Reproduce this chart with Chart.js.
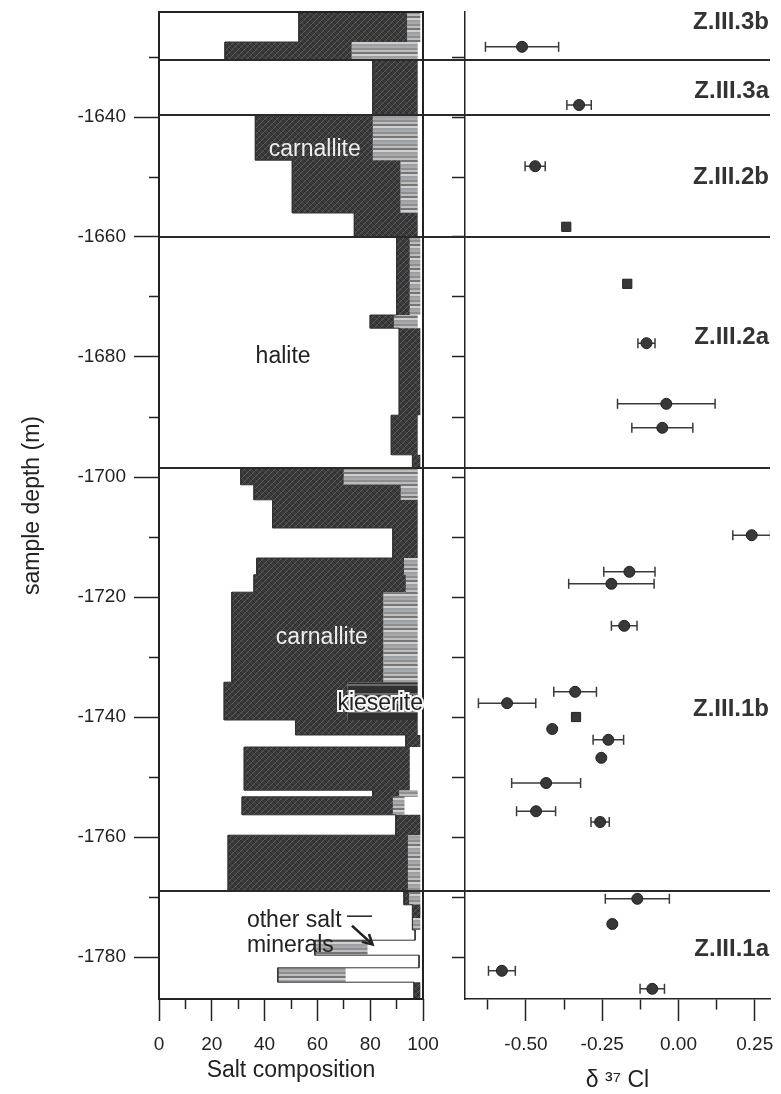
<!DOCTYPE html>
<html>
<head>
<meta charset="utf-8">
<script src="https://cdn.jsdelivr.net/npm/chart.js@4.4.0/dist/chart.umd.min.js"></script>
<style>
  html, body { margin: 0; padding: 0; background: #fff; }
  #wrap { position: relative; width: 781px; height: 1094px; }
  #comp { position: absolute; left: 0; top: 0; }
  #cl { position: absolute; left: 440px; top: 0; }
</style>
</head>
<body>
<div id="wrap">
  <canvas id="comp" width="440" height="1094"></canvas>
  <canvas id="cl" width="341" height="1094"></canvas>
</div>
<script>
/* ---- data ---- */
// top depth (m) of each logged interval; the last interval ends at depthBottom
var layerTops = [-1622.5, -1627.5, -1630.5, -1639.7, -1647.2, -1656, -1660, -1673, -1675.2, -1689.7, -1696.3,
  -1698.5, -1701.3, -1703.8, -1708.5, -1713.5, -1716.3, -1719.2, -1734.2, -1740.5, -1743, -1745,
  -1752.2, -1753.3, -1756.3, -1759.7, -1769, -1771.3, -1773.5, -1775.5, -1777.2, -1779.7, -1781.8, -1784.2];
var depthBottom = -1787;
// salt composition per interval (%)
var halite     = [53, 25, 81, 36.5, 50.5, 74, 90, 80, 91, 88, 96, 31, 36, 43, 88.6, 37, 36, 27.6, 24.7, 51.7, 93.5, 32.3, 81, 31.5, 89.7, 26.2, 92.8, 96, 96, 97, 59, 98.5, 45, 96.6];
var carnallite = [41, 48, 17, 44.5, 41, 24, 5, 9, 8, 10, 3, 39, 55.6, 55, 9.4, 55.8, 57.5, 57.4, 46.8, 46.3, 5.5, 62.7, 10, 57.1, 9.3, 68.1, 2, 3, 0, 0, 0, 0, 0, 2.4];
var kieserite  = [0, 0, 0, 0, 0, 0, 0, 0, 0, 0, 0, 0, 0, 0, 0, 0, 0, 0, 26.5, 0, 0, 0, 0, 0, 0, 0, 0, 0, 0, 0, 0, 0, 0, 0];
var otherSalt  = [5, 25, 0, 17, 6.5, 0, 4, 9, 0, 0, 0, 28, 6.4, 0, 0, 5, 4.5, 13, 0, 0, 0, 0, 7, 4.4, 0, 4.7, 4.2, 0, 3, 0, 20, 0, 25.7, 0];

// delta 37Cl samples
var sampleDepth = [-1628.3, -1638.0, -1648.2, -1658.3, -1667.8, -1677.7, -1687.8, -1691.8, -1709.7, -1715.8, -1717.8, -1724.8, -1735.8,
  -1737.7, -1740.0, -1742.0, -1743.8, -1746.8, -1751.0, -1755.7, -1757.5, -1770.3, -1774.5, -1782.3, -1785.3];
var d37Cl = [-0.513, -0.326, -0.470, -0.368, -0.168, -0.105, -0.040, -0.053, 0.240, -0.161, -0.220, -0.178, -0.339,
  -0.562, -0.336, -0.414, -0.230, -0.253, -0.434, -0.467, -0.257, -0.135, -0.217, -0.579, -0.086];
var d37ClErr = [0.12, 0.04, 0.033, 0, 0, 0.028, 0.16, 0.10, 0.062, 0.084, 0.14, 0.042, 0.07,
  0.094, 0, 0, 0.05, 0, 0.113, 0.064, 0.03, 0.105, 0, 0.044, 0.04];
var markerType = ['c', 'c', 'c', 's', 's', 'c', 'c', 'c', 'c', 'c', 'c', 'c', 'c', 'c', 's', 'c', 'c', 'c', 'c', 'c', 'c', 'c', 'c', 'c', 'c'];

// stratigraphic zones
var zoneBounds = [-1630.5, -1639.7, -1660, -1698.5, -1769];
var zoneNames = ['Z.III.3b', 'Z.III.3a', 'Z.III.2b', 'Z.III.2a', 'Z.III.1b', 'Z.III.1a'];
var zoneNameDepth = [-1624.2, -1635.7, -1650, -1676.8, -1738.8, -1778.8];

// ticks
var depthTicks = [-1780, -1770, -1760, -1750, -1740, -1730, -1720, -1710, -1700, -1690, -1680, -1670, -1660, -1650, -1640, -1630];
var compTicks = [0, 10, 20, 30, 40, 50, 60, 70, 80, 90, 100];
var clTicks = [-0.625, -0.5, -0.375, -0.25, -0.125, 0, 0.125, 0.25];

// mineral labels inside the composition panel (x in %, y in m)
var mineralText  = ['carnallite', 'halite', 'carnallite', 'kieserite', 'other salt', 'minerals'];
var mineralX     = [59, 47, 61.7, 83.8, 33.3, 33.3];
var mineralDepth = [-1645.5, -1680, -1726.8, -1737.7, -1773.9, -1778.1];
var mineralAlign = ['center', 'center', 'center', 'center', 'left', 'left'];
var mineralStyle = ['light', 'dark', 'light', 'halo', 'dark', 'dark'];
var leaderLine = [[71.2, -1773.2], [80.7, -1773.2]];
var leaderArrow = [[73.1, -1774.8], [80.9, -1777.9]];

var FONT = '"Liberation Sans", Arial, sans-serif';
Chart.defaults.font.family = FONT;
Chart.defaults.color = '#222';

/* ---- fills ---- */
function makePattern(target, w, h, draw) {
    var c = document.createElement('canvas');
    c.width = w; c.height = h;
    draw(c.getContext('2d'), w, h);
    return target.getContext('2d').createPattern(c, 'repeat');
}
var compCanvas = document.getElementById('comp');
var darkFill = makePattern(compCanvas, 6, 6, function (g, w, h) {
    g.fillStyle = '#3b3b3b'; g.fillRect(0, 0, w, h);
    g.strokeStyle = '#5e5e5e'; g.lineWidth = 1;
    g.beginPath();
    g.moveTo(0, h); g.lineTo(w, 0);
    g.moveTo(-w / 2, h / 2); g.lineTo(w / 2, -h / 2);
    g.moveTo(w / 2, h * 1.5); g.lineTo(w * 1.5, h / 2);
    g.stroke();
    g.strokeStyle = '#2a2a2a';
    g.beginPath(); g.moveTo(0, 0); g.lineTo(w, h); g.stroke();
});
var kieseriteFill = makePattern(compCanvas, 4, 9, function (g, w, h) {
    g.fillStyle = '#313131'; g.fillRect(0, 0, w, h);
    g.fillStyle = '#6c6c6c'; g.fillRect(0, 0, w, 2);
});
var otherFill = makePattern(compCanvas, 4, 12, function (g, w, h) {
    ['#8e8e8e', '#bdbdbd', '#747474', '#cfcfcf', '#9ba0a6', '#a9a9a9'].forEach(function (c, i) {
        g.fillStyle = c; g.fillRect(0, i * 2, w, 2);
    });
});

// cumulative step profile of a set of layers, top to bottom
function boundary(layers) {
    var pts = [];
    for (var i = 0; i < layerTops.length; i++) {
        var x = 0;
        layers.forEach(function (arr) { x += arr[i]; });
        var bottom = i + 1 < layerTops.length ? layerTops[i + 1] : depthBottom;
        pts.push({ x: x, y: layerTops[i] }, { x: x, y: bottom });
    }
    return pts;
}

function isMajorComp(v) { return v % 20 === 0; }
function isMajorCl(v) { return Math.abs(v * 4 - Math.round(v * 4)) < 1e-9; }

/* ---- plugins ---- */
var zoneLinesPlugin = {
    id: 'zoneLines',
    afterDatasetsDraw: function (chart, args, opts) {
        var ctx = chart.ctx, y = chart.scales.y, a = chart.chartArea;
        var x0 = opts.fromCanvasEdge ? 0 : a.left;
        var x1 = opts.fromCanvasEdge ? a.right : chart.width;
        ctx.save();
        ctx.strokeStyle = '#2a2a2a';
        ctx.lineWidth = 2;
        zoneBounds.forEach(function (d) {
            var py = Math.round(y.getPixelForValue(d));
            ctx.beginPath(); ctx.moveTo(x0, py); ctx.lineTo(x1, py); ctx.stroke();
        });
        ctx.restore();
    }
};

var framePlugin = {
    id: 'frame',
    afterDatasetsDraw: function (chart) {
        var a = chart.chartArea, ctx = chart.ctx;
        ctx.save();
        ctx.strokeStyle = '#222';
        ctx.lineWidth = 2;
        ctx.strokeRect(a.left, a.top, a.right - a.left, a.bottom - a.top);
        ctx.restore();
    }
};

var mineralLabelsPlugin = {
    id: 'mineralLabels',
    afterDatasetsDraw: function (chart) {
        var ctx = chart.ctx, xs = chart.scales.x, ys = chart.scales.y;
        ctx.save();
        ctx.font = '23px ' + FONT;
        ctx.textBaseline = 'middle';
        mineralText.forEach(function (t, i) {
            var px = xs.getPixelForValue(mineralX[i]);
            var py = ys.getPixelForValue(mineralDepth[i]);
            ctx.textAlign = mineralAlign[i];
            if (mineralStyle[i] === 'halo') {
                ctx.lineWidth = 4;
                ctx.strokeStyle = '#f4f4f4';
                ctx.strokeText(t, px, py);
            }
            ctx.fillStyle = mineralStyle[i] === 'light' ? '#eeeeee' : '#222';
            ctx.fillText(t, px, py);
        });
        // leader and arrow towards the thin "other salt minerals" bars
        function pt(p) { return [xs.getPixelForValue(p[0]), ys.getPixelForValue(p[1])]; }
        var l0 = pt(leaderLine[0]), l1 = pt(leaderLine[1]);
        var a0 = pt(leaderArrow[0]), a1 = pt(leaderArrow[1]);
        ctx.strokeStyle = '#222';
        ctx.lineWidth = 1.5;
        ctx.beginPath(); ctx.moveTo(l0[0], l0[1]); ctx.lineTo(l1[0], l1[1]); ctx.stroke();
        var ang = Math.atan2(a1[1] - a0[1], a1[0] - a0[0]);
        ctx.lineWidth = 2.5;
        ctx.beginPath(); ctx.moveTo(a0[0], a0[1]); ctx.lineTo(a1[0], a1[1]); ctx.stroke();
        ctx.beginPath();
        ctx.moveTo(a1[0] - 11 * Math.cos(ang - 0.5), a1[1] - 11 * Math.sin(ang - 0.5));
        ctx.lineTo(a1[0], a1[1]);
        ctx.lineTo(a1[0] - 11 * Math.cos(ang + 0.5), a1[1] - 11 * Math.sin(ang + 0.5));
        ctx.stroke();
        ctx.restore();
    }
};

var zoneNamesPlugin = {
    id: 'zoneNames',
    afterDatasetsDraw: function (chart) {
        var ctx = chart.ctx, ys = chart.scales.y, a = chart.chartArea;
        ctx.save();
        ctx.font = 'bold 24px ' + FONT;
        ctx.fillStyle = '#333';
        ctx.textAlign = 'right';
        ctx.textBaseline = 'middle';
        zoneNames.forEach(function (t, i) {
            ctx.fillText(t, a.right - 1, ys.getPixelForValue(zoneNameDepth[i]));
        });
        ctx.restore();
    }
};

/* ---- left panel: salt composition ---- */
new Chart(compCanvas, {
    type: 'line',
    data: {
        datasets: [
            { label: 'halite', data: boundary([halite]), borderColor: '#333', borderWidth: 1, fill: false },
            { label: 'carnallite', data: boundary([halite, carnallite]), backgroundColor: darkFill, borderWidth: 0, fill: '-1' },
            { label: 'kieserite', data: boundary([halite, carnallite, kieserite]), backgroundColor: kieseriteFill, borderWidth: 0, fill: '-1' },
            { label: 'other salt minerals', data: boundary([halite, carnallite, kieserite, otherSalt]), backgroundColor: otherFill, borderWidth: 0, fill: '-1' }
        ]
    },
    options: {
        responsive: false,
        animation: false,
        devicePixelRatio: 1,
        indexAxis: 'y',
        layout: { padding: { top: 12, right: 17, left: 0, bottom: 0 } },
        elements: { point: { radius: 0, hitRadius: 0 }, line: { tension: 0 } },
        plugins: {
            legend: { display: false },
            tooltip: { enabled: false },
            zoneLines: { fromCanvasEdge: false }
        },
        scales: {
            x: {
                type: 'linear', position: 'bottom', min: 0, max: 100,
                afterBuildTicks: function (a) { a.ticks = compTicks.map(function (v) { return { value: v }; }); },
                afterFit: function (a) { a.height = 95; a.paddingLeft = 0; a.paddingRight = 0; },
                border: { display: false },
                grid: {
                    drawOnChartArea: false, tickLength: 22, tickWidth: 1.5, tickColor: '#222',
                    tickBorderDash: function (c) { return c.tick && !isMajorComp(c.tick.value) ? [10, 100] : []; }
                },
                ticks: {
                    padding: 12, autoSkip: false, maxRotation: 0, color: '#222', font: { size: 19 },
                    callback: function (v) { return isMajorComp(v) ? String(v) : ''; }
                },
                title: { display: true, text: 'Salt composition', color: '#222', font: { size: 23 }, padding: { top: 0, bottom: 10 } }
            },
            y: {
                type: 'linear', position: 'left', min: -1787, max: -1622.5,
                afterBuildTicks: function (a) { a.ticks = depthTicks.map(function (v) { return { value: v }; }); },
                afterFit: function (a) { a.width = 159; a.paddingTop = 0; a.paddingBottom = 0; },
                border: { display: false },
                grid: {
                    drawOnChartArea: false, tickLength: 25, tickWidth: 1.5, tickColor: '#222',
                    tickBorderDash: function (c) { return c.tick && !isMajorComp(c.tick.value) ? [0, 15, 10, 100] : []; }
                },
                ticks: {
                    padding: 8, autoSkip: false, color: '#222', font: { size: 19 },
                    callback: function (v) { return isMajorComp(v) ? String(v) : ''; }
                },
                title: { display: true, text: 'sample depth (m)', color: '#222', font: { size: 23 }, padding: { top: 19, bottom: 0 } }
            }
        }
    },
    plugins: [zoneLinesPlugin, framePlugin, mineralLabelsPlugin]
});

/* ---- right panel: delta 37Cl ---- */
var errData = [];
sampleDepth.forEach(function (d, i) {
    if (d37ClErr[i] > 0) {
        errData.push({ x: d37Cl[i] - d37ClErr[i], y: d }, { x: d37Cl[i] + d37ClErr[i], y: d }, { x: null, y: null });
    }
});
var markerData = sampleDepth.map(function (d, i) { return { x: d37Cl[i], y: d }; });

new Chart(document.getElementById('cl'), {
    type: 'scatter',
    data: {
        datasets: [
            {
                label: 'error', data: errData, showLine: true, spanGaps: false, order: 2,
                borderColor: '#3a3a3a', borderWidth: 1.5,
                pointStyle: 'line', rotation: 90, pointRadius: 5,
                pointBorderColor: '#3a3a3a', pointBorderWidth: 1.5
            },
            {
                label: 'd37Cl', data: markerData, order: 1,
                pointStyle: function (c) { return markerType[c.dataIndex] === 's' ? 'rect' : 'circle'; },
                pointRadius: function (c) { return markerType[c.dataIndex] === 's' ? 6.5 : 5.5; },
                backgroundColor: '#383838', borderColor: '#222', borderWidth: 1
            }
        ]
    },
    options: {
        responsive: false,
        animation: false,
        devicePixelRatio: 1,
        layout: { padding: { top: 12, right: 11, left: 0, bottom: 0 } },
        plugins: {
            legend: { display: false },
            tooltip: { enabled: false },
            zoneLines: { fromCanvasEdge: true }
        },
        scales: {
            x: {
                type: 'linear', position: 'bottom', min: -0.7, max: 0.3,
                afterBuildTicks: function (a) { a.ticks = clTicks.map(function (v) { return { value: v }; }); },
                afterFit: function (a) { a.height = 95; a.paddingLeft = 0; a.paddingRight = 0; },
                border: { display: true, color: '#222', width: 1.5 },
                grid: {
                    drawOnChartArea: false, tickLength: 22, tickWidth: 1.5, tickColor: '#222',
                    tickBorderDash: function (c) { return c.tick && !isMajorCl(c.tick.value) ? [10, 100] : []; }
                },
                ticks: {
                    padding: 12, autoSkip: false, maxRotation: 0, color: '#222', font: { size: 19 },
                    callback: function (v) { return isMajorCl(v) ? v.toFixed(2) : ''; }
                },
                title: { display: true, text: 'δ ³⁷ Cl', color: '#222', font: { size: 23 }, padding: { top: 0, bottom: 0 } }
            },
            y: {
                type: 'linear', position: 'left', min: -1787, max: -1622.5,
                afterBuildTicks: function (a) { a.ticks = depthTicks.map(function (v) { return { value: v }; }); },
                afterFit: function (a) { a.width = 25; a.paddingTop = 0; a.paddingBottom = 0; },
                border: { display: true, color: '#222', width: 1.5 },
                grid: { drawOnChartArea: false, tickLength: 13, tickWidth: 1.5, tickColor: '#222' },
                ticks: { display: false, autoSkip: false }
            }
        }
    },
    plugins: [zoneLinesPlugin, zoneNamesPlugin]
});
</script>
</body>
</html>
